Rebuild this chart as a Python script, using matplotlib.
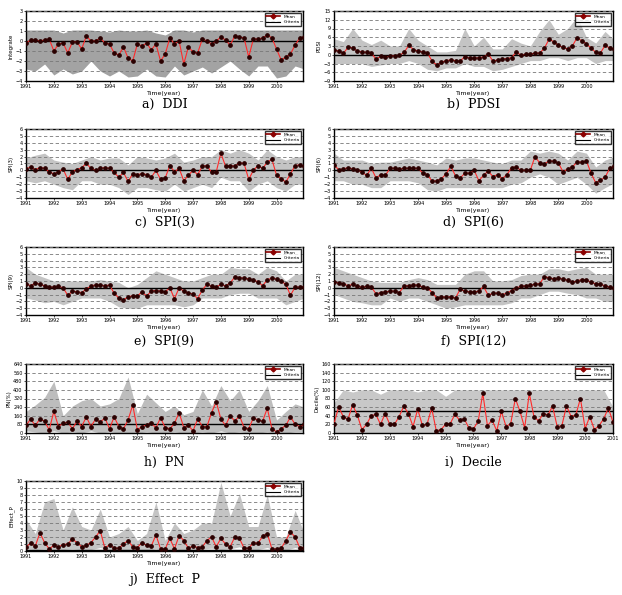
import numpy as np
import matplotlib.pyplot as plt
from matplotlib.lines import Line2D

# Bimonthly mean values (Jan 1991 ... Jan 2001), 61 points
ddi_mean = [-0.2, 0.1, 0.1, 0.0, 0.1, 0.2,
            -1.0, -0.3, -0.2, -1.2, -0.1, -0.1,
            -0.8, 0.5, 0.0, 0.0, 0.3, -0.2,
            -0.3, -1.2, -1.4, -0.6, -1.7, -2.0,
            -0.3, -0.5, -0.2, -0.9, -0.3, -2.0,
            -1.3, 0.3, -0.3, 0.0, -2.3, -0.6,
            -1.1, -1.2, 0.2, 0.0, -0.3, 0.0,
            0.4, 0.1, -0.4, 0.5, 0.4, 0.3,
            -1.6, 0.2, 0.2, 0.3, 0.6, 0.3,
            -0.8, -1.9, -1.6, -1.3, -0.4, 0.3,
            0.4]
pdsi_mean = [1.5, 1.3, 0.5, 2.5, 2.4, 1.2,
             1.0, 0.8, 0.5, -1.5, -0.5, -0.8,
             -0.5, -0.3, -0.2, 0.8, 3.2, 1.8,
             1.2, 1.0, 0.6, -2.2, -3.5, -2.6,
             -2.0, -1.8, -2.0, -2.2, -0.6, -1.2,
             -1.2, -1.0, -0.8, 0.3, -2.2, -1.8,
             -1.5, -1.3, -1.0, 1.0, -0.2, 0.2,
             0.3, 0.5, 0.6, 2.2, 5.3, 4.5,
             3.2, 2.5, 2.0, 3.0, 5.8, 4.8,
             3.8, 2.3, 0.8, 0.6, 3.2, 2.3,
             2.0]
spi3_mean = [0.2, 0.5, 0.1, 0.4, 0.3, -0.2,
             -0.5, -0.2, 0.2, -1.3, -0.2, 0.1,
             0.4, 1.0, 0.3, 0.0, 0.3, 0.4,
             0.3, -0.3, -1.0, -0.3, -1.6, -0.5,
             -0.6, -0.5, -0.6, -1.0, 0.0, -1.3,
             -1.1, 0.7, -0.2, 0.3, -1.5, -0.7,
             0.0, -0.6, 0.6, 0.7, -0.3, -0.2,
             2.5, 0.6, 0.7, 0.6, 1.1, 1.0,
             -1.3, 0.0, 0.7, 0.3, 1.2, 1.6,
             -0.7, -1.2, -1.7, -0.5, 0.7, 0.8,
             0.6]
spi6_mean = [0.8, 0.1, 0.2, 0.4, 0.2, 0.1,
             -0.3, -0.7, 0.3, -1.1, -0.6, -0.7,
             0.3, 0.3, 0.2, 0.3, 0.3, 0.3,
             0.3, -0.4, -0.6, -1.6, -1.5, -1.2,
             -0.5, 0.6, -0.8, -1.1, -0.4, -0.4,
             0.0, -1.5, -0.7, -0.1, -0.9, -0.6,
             -1.2, -0.6, 0.4, 0.5, 0.0, 0.0,
             0.0, 2.0, 1.1, 0.9, 1.4, 1.3,
             1.1, -0.2, 0.2, 0.5, 1.2, 1.2,
             1.4, -0.4, -1.8, -1.4, -1.0, 0.3,
             0.6]
spi9_mean = [0.6, 0.3, 0.7, 0.5, 0.3, 0.1,
             0.1, 0.2, 0.0, -1.1, -0.5, -0.6,
             -0.7, -0.2, 0.3, 0.4, 0.4, 0.3,
             0.4, -0.8, -1.5, -1.8, -1.3, -1.2,
             -1.2, -0.6, -1.2, -0.5, -0.4, -0.5,
             -0.6, 0.0, -1.6, 0.0, -0.5, -0.8,
             -0.9, -1.6, -0.3, 0.5, 0.2, 0.1,
             0.5, 0.3, 0.7, 1.6, 1.5, 1.4,
             1.3, 1.1, 0.9, 0.3, 1.2, 1.4,
             1.3, 1.0, 0.5, -1.1, 0.1, 0.1,
             0.1]
spi12_mean = [0.9, 0.7, 0.6, 0.3, 0.5, 0.2,
              0.1, 0.2, 0.1, -0.9, -0.7, -0.6,
              -0.5, -0.5, -0.7, 0.3, 0.3, 0.4,
              0.4, 0.1, 0.0, -0.7, -1.5, -1.3,
              -1.4, -1.3, -1.5, -0.2, -0.5, -0.6,
              -0.6, -0.5, 0.2, -1.1, -0.8, -0.8,
              -1.0, -0.8, -0.4, 0.0, 0.2, 0.3,
              0.4, 0.5, 0.6, 1.6, 1.5, 1.3,
              1.4, 1.3, 1.1, 0.8, 1.0, 1.2,
              1.2, 0.8, 0.6, 0.5, 0.3, 0.1,
              0.0]
pn_mean = [70, 130, 70, 130, 110, 30,
           200, 60, 90, 100, 40, 110,
           60, 150, 60, 130, 100, 140,
           40, 150, 60, 40, 120, 260,
           30, 60, 75, 90, 50, 140,
           50, 40, 90, 190, 50, 70,
           20, 130, 60, 60, 190, 290,
           130, 70, 160, 110, 160, 50,
           40, 140, 120, 110, 230, 40,
           10, 40, 70, 150, 80, 60,
           80]
decile_mean = [22, 60, 38, 32, 65, 42, 8, 20, 40, 43, 20, 45, 20, 20, 38, 62,
               45, 15, 55, 18, 20, 58, 5, 8, 20, 22, 43, 30, 33, 12, 10, 27,
               92, 17, 30, 5, 50, 15, 22, 80, 50, 12, 92, 38, 28, 45, 42, 62,
               15, 17, 63, 38, 42, 80, 10, 38, 8, 17, 33, 58, 25]
effp_mean = [0.6, 1.1, 0.7, 2.6, 1.2, 0.3,
             0.8, 0.6, 0.9, 1.0, 1.7, 1.2,
             0.6, 0.8, 1.2, 2.0, 2.9, 0.4,
             0.9, 0.4, 0.4, 1.0, 1.5, 0.6,
             0.5, 1.2, 0.8, 0.7, 2.3, 0.3,
             0.3, 1.8, 0.3, 2.2, 1.5, 0.4,
             0.7, 0.5, 0.6, 1.5, 2.0, 0.6,
             1.8, 1.0, 0.6, 2.0, 1.8, 0.4,
             0.4, 1.2, 1.1, 2.1, 2.5, 0.3,
             0.3, 0.4, 1.5, 2.7, 2.0, 0.5,
             0.5]

# Envelope of all stations (every 4 months, Jan 1991 ... Jan 2001), 31 points
ddi_hi = [1.1, 1.1, 1.1, 1.1, 0.8, 1.1, 1.1, 1.1, 1.0, 0.9, 1.1, 1.0, 1.0, 1.1, 0.8, 0.6,
          1.1, 1.1, 0.9, 1.1, 1.1, 1.1, 1.1, 1.1, 1.1, 1.1, 1.1, 1.1, 1.1, 1.1, 1.1]
ddi_lo = [-2.8, -3.0, -2.3, -3.4, -2.8, -3.3, -3.0, -2.0, -3.0, -3.5, -3.0, -3.6, -3.5, -2.8, -3.5, -3.6,
          -2.5, -3.4, -3.0, -2.6, -3.2, -2.6, -2.0, -2.8, -3.5, -2.5, -2.5, -3.7, -3.5, -2.5, -2.8]
pdsi_hi = [5.5, 4.5, 9, 5, 3.5, 5, 3, 3, 9, 5, 3, 1, 1, 1.5, 9, 3,
           6, 2, 2, 5.5, 4, 3, 8, 12, 7, 9, 13, 6, 4, 8, 5]
pdsi_lo = [-3, -3, -3, -3, -4, -3.5, -3, -3, -2, -3, -5, -5.5, -4.5, -4.5, -3, -4,
           -4, -5.5, -5, -4, -3, -2, -2, -1, -1, -2, -1, -1, -3, -2, -2]
spi3_hi = [1.8, 2.2, 2.5, 1.5, 1.2, 1.0, 1.5, 2.0, 1.5, 1.8, 1.8, 0.8, 2.0, 1.8, 1.5, 1.8,
           2.5, 1.2, 1.5, 2.0, 2.0, 3.0, 2.5, 3.0, 2.5, 1.5, 3.0, 2.0, 1.5, 2.0, 2.0]
spi3_lo = [-1.5, -1.8, -1.5, -2.0, -2.5, -2.8, -1.5, -1.5, -2.0, -2.0, -2.5, -3.5, -2.5, -2.5, -2.8, -3.0,
           -2.0, -3.0, -2.5, -2.0, -2.5, -1.0, -1.5, -1.5, -3.0, -2.0, -1.5, -2.5, -3.0, -2.0, -2.0]
spi6_hi = [2.5, 1.5, 1.5, 1.5, 1.0, 1.2, 1.2, 1.5, 1.8, 1.5, 1.2, 0.8, 1.8, 1.5, 1.8, 1.8,
           1.5, 1.2, 1.0, 1.5, 1.5, 2.8, 2.5, 2.8, 2.5, 1.5, 2.8, 2.5, 0.5, 1.5, 2.0]
spi6_lo = [-1.5, -1.5, -2.0, -2.0, -2.5, -2.5, -1.5, -1.5, -1.5, -1.8, -2.8, -3.0, -2.5, -2.5, -2.5, -2.5,
           -2.5, -2.5, -2.5, -2.0, -1.8, -1.0, -0.5, -1.0, -2.0, -1.5, -1.0, -2.0, -3.3, -2.5, -1.8]
spi9_hi = [3.0, 2.0, 1.5, 1.0, 1.0, 1.0, 1.0, 1.0, 1.2, 1.0, 0.8, 0.0, 0.5, 1.5, 2.5, 2.0,
           1.5, 1.0, 1.0, 1.5, 2.0, 2.0, 3.0, 2.8, 2.8, 2.0, 3.0, 2.5, 1.0, 2.0, 2.0]
spi9_lo = [-1.5, -1.8, -2.2, -2.0, -2.5, -2.0, -1.5, -1.5, -1.5, -2.0, -2.8, -3.0, -3.0, -2.5, -2.5, -2.5,
           -2.5, -2.8, -2.5, -1.5, -1.5, -1.5, -1.0, -0.8, -0.8, -1.5, -1.5, -1.5, -2.5, -2.0, -1.5]
spi12_hi = [3.0, 2.5, 2.0, 1.5, 1.0, 0.8, 0.8, 0.8, 1.2, 1.5, 1.2, 0.5, 0.5, 0.5, 2.0, 2.5,
            2.5, 1.0, 1.0, 1.2, 1.8, 2.0, 2.0, 2.8, 2.8, 2.5, 2.8, 3.0, 2.0, 2.0, 2.0]
spi12_lo = [-1.0, -1.5, -2.0, -2.2, -2.5, -2.5, -1.5, -2.0, -1.5, -1.5, -2.0, -2.5, -3.0, -2.8, -2.5, -2.5,
            -2.5, -2.5, -2.5, -2.2, -1.5, -1.5, -1.0, -0.5, -0.5, -0.8, -1.0, -1.5, -1.5, -2.0, -2.0]
pn_hi = [200, 260, 330, 480, 160, 250, 300, 320, 250, 270, 320, 520, 180, 360, 280, 200,
         250, 170, 200, 400, 250, 440, 300, 400, 200, 300, 440, 120, 200, 270, 240]
pn_lo = [20, 10, 0, 20, 0, 10, 0, 20, 0, 10, 0, 0, 0, 10, 0, 0,
         10, 0, 0, 10, 0, 20, 0, 10, 0, 0, 10, 0, 0, 10, 10]
decile_hi = [70, 100, 95, 100, 100, 90, 100, 100, 100, 95, 100, 100, 85, 100, 100, 100,
             100, 100, 100, 100, 100, 100, 100, 100, 100, 100, 100, 100, 100, 100, 60]
decile_lo = [0, 0, 0, 0, 0, 0, 0, 0, 0, 0, 0, 0, 0, 0, 0, 0,
             0, 0, 0, 0, 0, 0, 0, 0, 0, 0, 0, 0, 0, 0, 0]
effp_hi = [4.5, 2.5, 7.0, 7.5, 3.0, 6.3, 3.5, 3.0, 6.0, 2.0, 2.5, 3.5, 1.5, 2.5, 7.0, 1.5,
           4.0, 2.5, 3.0, 4.0, 4.0, 9.8, 5.0, 8.2, 3.5, 3.5, 8.0, 2.0, 2.0, 5.8, 2.5]
effp_lo = [0.3, 0.2, 0.3, 0.2, 0.2, 0.3, 0.2, 0.2, 0.5, 0.1, 0.1, 0.1, 0.1, 0.1, 0.3, 0.0,
           0.3, 0.1, 0.1, 0.3, 0.4, 0.2, 0.3, 0.6, 0.0, 0.2, 0.5, 0.0, 0.1, 0.5, 0.1]

years = [1991, 1992, 1993, 1994, 1995, 1996, 1997, 1998, 1999, 2000]

# (ylabel, mean, hi, lo, criteria, ylim, ystep, caption, band colour, xmax)
panels = [
    ('Integrate', ddi_mean, ddi_hi, ddi_lo, 0, (-4, 3), 1, 'a)  DDI', '#a3a3a3', 2000.95),
    ('PDSI', pdsi_mean, pdsi_hi, pdsi_lo, 0, (-9, 15), 3, 'b)  PDSI', '#c4c4c4', 2000.95),
    ('SPI(3)', spi3_mean, spi3_hi, spi3_lo, 0, (-4, 6), 1, 'c)  SPI(3)', '#c4c4c4', 2000.95),
    ('SPI(6)', spi6_mean, spi6_hi, spi6_lo, 0, (-4, 6), 1, 'd)  SPI(6)', '#c4c4c4', 2000.95),
    ('SPI(9)', spi9_mean, spi9_hi, spi9_lo, 0, (-4, 6), 1, 'e)  SPI(9)', '#c4c4c4', 2000.95),
    ('SPI(12)', spi12_mean, spi12_hi, spi12_lo, 0, (-4, 6), 1, 'f)  SPI(12)', '#c4c4c4', 2000.95),
    ('PN(%)', pn_mean, pn_hi, pn_lo, 80, (0, 640), 80, 'h)  PN', '#bdbdbd', 2000.95),
    ('Decile(%)', decile_mean, decile_hi, decile_lo, 50, (0, 160), 20, 'i)  Decile', '#c8c8c8', 2001.0),
    ('Effect_P', effp_mean, effp_hi, effp_lo, 0.2, (0, 10), 1, 'j)  Effect  P', '#c4c4c4', 2000.95),
]

# axes positions in pixels: (left, top, width, height), figure 622 x 595
W, H = 622, 595
boxes = [(26, 11, 277, 70), (334, 11, 279, 70),
         (26, 129, 277, 69), (334, 129, 279, 69),
         (26, 247, 277, 68), (334, 247, 279, 68),
         (26, 364, 277, 69), (334, 364, 279, 69),
         (26, 481, 277, 70)]
caption_y = [104, 104, 222, 222, 341, 341, 462, 462, 579]

fig = plt.figure(figsize=(6.22, 5.95), dpi=100)

t_mean = 1991 + np.arange(61) * 2 / 12
t_env = 1991 + np.arange(31) * 4 / 12

for (ylab, mean, hi, lo, crit, ylim, ystep, cap, band, xmax), (l, t, w, h), cy in zip(panels, boxes, caption_y):
    ax = fig.add_axes([l / W, 1 - (t + h) / H, w / W, h / H])
    ax.fill_between(t_env, lo, hi, color=band, lw=0, zorder=1)
    ax.axhline(crit, color='black', lw=1.0, zorder=3)
    ax.plot(t_mean, mean, color='#ff2a2a', lw=0.8, zorder=4)
    ax.plot(t_mean, mean, ls='none', marker='o', ms=2.4, color='#2a0000', zorder=5)

    ax.set_xlim(1991, xmax)
    ax.set_ylim(*ylim)
    ax.set_yticks(np.arange(ylim[0], ylim[1] + ystep / 2, ystep))
    xt = years + [2001] if xmax >= 2001 else years
    ax.set_xticks(xt)
    ax.set_xticklabels([str(y) for y in xt])
    ax.yaxis.grid(True, ls=(0, (4, 3)), color='#777777', lw=0.6)
    ax.set_axisbelow(False)
    ax.tick_params(labelsize=3.5, length=1.5, width=0.5, pad=1)
    for s in ax.spines.values():
        s.set_linewidth(1.0)
    ax.set_ylabel(ylab, fontsize=4, labelpad=1)
    ax.set_xlabel('Time(year)', fontsize=4.5, labelpad=1)

    handles = [Line2D([], [], color='#8b0000', lw=1.2, marker='D', ms=2.5),
               Line2D([], [], color='black', lw=0.8)]
    leg = ax.legend(handles, ['Mean', 'Criteria'], loc='upper right', fontsize=3.2,
                    frameon=True, fancybox=False, edgecolor='black', handlelength=3,
                    borderpad=0.4, labelspacing=0.3, borderaxespad=0.4)
    leg.get_frame().set_linewidth(1.0)

    fig.text((l + w / 2) / W, 1 - cy / H, cap, ha='center', va='center',
             fontsize=9, family='DejaVu Serif')

fig.savefig('out.png', dpi=100)
